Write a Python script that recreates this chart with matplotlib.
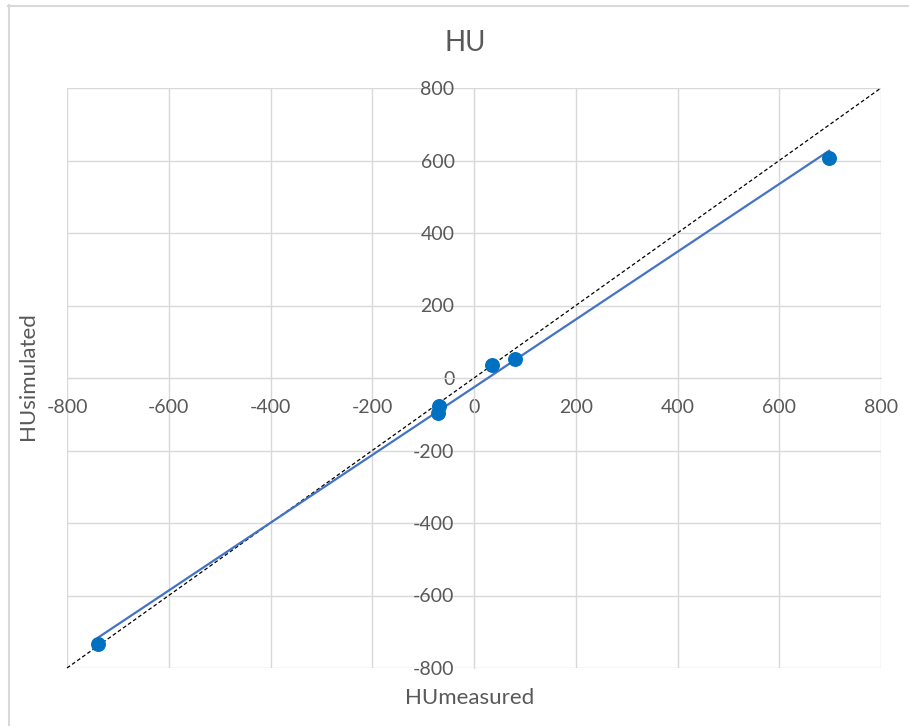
import numpy as np
import matplotlib
matplotlib.use("Agg")
import matplotlib.pyplot as plt
from matplotlib.lines import Line2D

# measured vs simulated HU values
hu_measured = [-739, -71, -68, 35, 81, 698]
hu_simulated = [-734, -97, -77, 36, 52, 607]
ticks = [-800, -600, -400, -200, 0, 200, 400, 600, 800]

plt.rcParams['font.family'] = ['Lato', 'DejaVu Sans']
grey_txt = '#595959'
grid_col = '#d9d9d9'

fig = plt.figure(figsize=(9.09, 7.26), dpi=100)
ax = fig.add_axes([67 / 909, 1 - 668 / 726, 814 / 909, 580 / 726])

# outer chart frame (only top and left visible in the screenshot)
fig.add_artist(Line2D([8 / 909, 1.0], [1 - 5.5 / 726, 1 - 5.5 / 726], color=grid_col, lw=1.5))
fig.add_artist(Line2D([8.5 / 909, 8.5 / 909], [0.0, 1 - 5 / 726], color=grid_col, lw=1.5))

ax.set_xlim(-800, 800)
ax.set_ylim(-800, 800)
ax.set_xticks(ticks)
ax.set_yticks(ticks)
ax.grid(True, color=grid_col, lw=1.0, zorder=0)
for gl in ax.get_xgridlines() + ax.get_ygridlines():
    gl.set_clip_on(False)

for s in ['top', 'right']:
    ax.spines[s].set_visible(False)
ax.spines['left'].set_position(('data', 0))
ax.spines['bottom'].set_position(('data', 0))
ax.spines['left'].set_color(grid_col)
ax.spines['bottom'].set_color(grid_col)
ax.tick_params(axis='x', length=0, pad=15, labelsize=14, labelcolor=grey_txt)
ax.tick_params(axis='y', length=0, pad=14, labelsize=14, labelcolor=grey_txt)
ax.set_xticklabels([str(t) for t in ticks])
ax.set_yticklabels([str(t) for t in ticks])

# 1:1 line
ax.plot([-800, 800], [-800, 800], color='black', lw=0.9, ls=(0, (3, 2)), zorder=3, clip_on=False)

# linear trend line over the data range
k, b = np.polyfit(hu_measured, hu_simulated, 1)
xs = np.array([min(hu_measured), max(hu_measured)])
ax.plot(xs, k * xs + b, color='#4472C4', lw=1.6, zorder=4)

ax.scatter(hu_measured, hu_simulated, s=95, color='#0070C0', zorder=5, clip_on=False)

fig.text(465 / 909, 1 - 43 / 726, 'HU', ha='center', va='center', fontsize=20, color=grey_txt)
fig.text(470 / 909, 1 - 698 / 726, 'HUmeasured', ha='center', va='center', fontsize=16, color=grey_txt)
fig.text(28 / 909, 1 - 376 / 726, 'HUsimulated', ha='center', va='center', rotation=90, fontsize=16, color=grey_txt)

fig.savefig('out.png', dpi=100, facecolor='white')
